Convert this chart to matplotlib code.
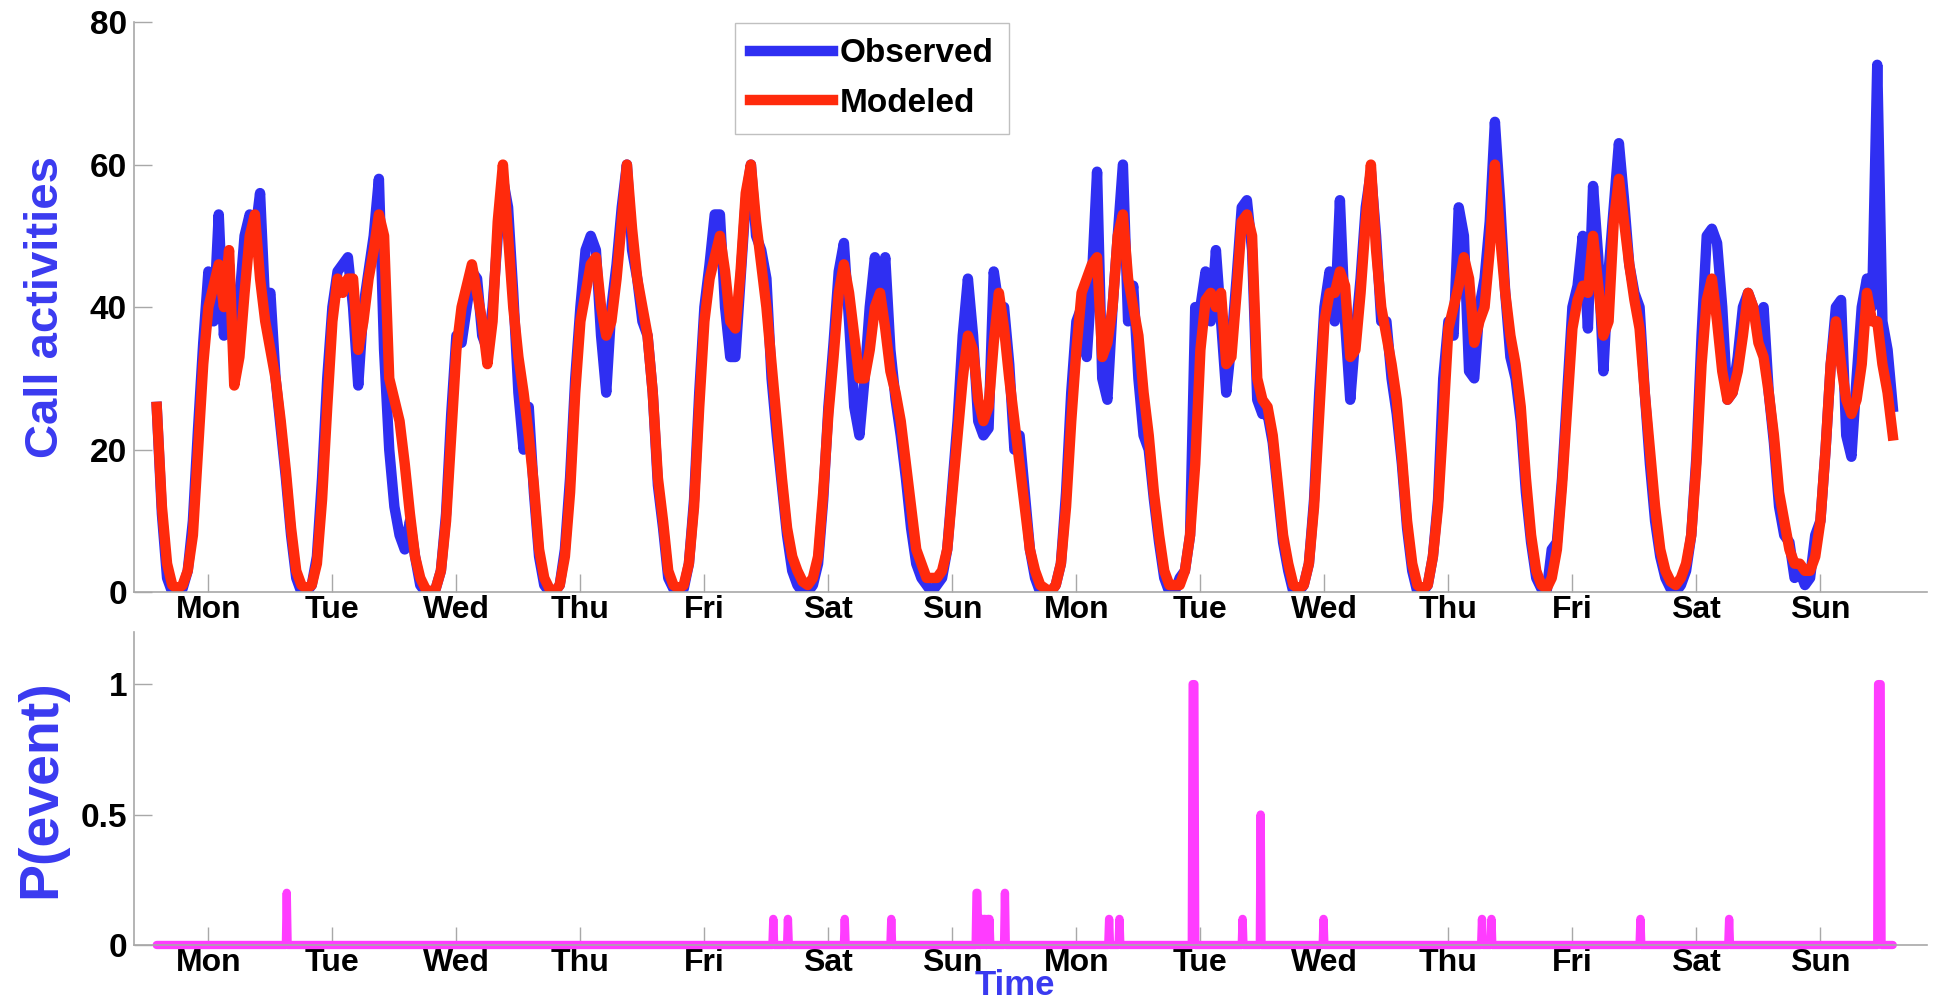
import numpy as np
import matplotlib
matplotlib.use("Agg")
import matplotlib.pyplot as plt

plt.rcParams['font.family'] = ['Liberation Sans', 'DejaVu Sans']
plt.rcParams['font.weight'] = 'bold'
plt.rcParams['axes.labelweight'] = 'bold'

# %% data -- hourly call activity, one list per day
# first Monday starts at 02:00, last Sunday runs two hours past midnight
day_labels = ["Mon", "Tue", "Wed", "Thu", "Fri", "Sat", "Sun"] * 2

observed_mon1 = [26, 11, 2, 0, 0, 0.5, 3, 10, 23, 35, 45, 38, 53, 36, 46, 32, 41, 50, 53, 50, 56, 40, 42]
observed_tue1 = [30, 23, 16, 8, 2, 0, 0, 1, 5, 16, 30, 40, 45, 46, 47, 40, 29, 40, 45, 50, 58, 34, 20, 12]
observed_wed1 = [8, 6, 10, 5, 1, 0, 0, 0.5, 3, 11, 25, 36, 35, 40, 45, 44, 36, 34, 40, 50, 58, 54, 42, 28]
observed_thu1 = [20, 26, 14, 5, 1, 0, 0, 1, 6, 16, 30, 40, 48, 50, 48, 36, 28, 40, 46, 54, 60, 48, 44, 38]
observed_fri1 = [36, 28, 15, 9, 2, 0.5, 0, 0.5, 4, 13, 28, 40, 46, 53, 53, 40, 33, 33, 44, 55, 60, 50, 48, 44]
observed_sat1 = [30, 22, 15, 8, 3, 1, 0, 0, 1, 4, 13, 26, 35, 45, 49, 38, 26, 22, 30, 40, 47, 40, 47, 34]
observed_sun1 = [27, 22, 16, 9, 4, 2, 1, 0, 1, 2, 6, 15, 24, 36, 44, 36, 24, 22, 23, 45, 40, 40, 32, 20]
observed_mon2 = [22, 14, 6, 2, 0, 0, 0, 1, 4, 14, 28, 38, 40, 33, 44, 59, 30, 27, 40, 50, 60, 38, 43, 30]
observed_tue2 = [22, 20, 13, 7, 2, 0, 0, 2, 3, 8, 40, 40, 45, 38, 48, 38, 28, 35, 44, 54, 55, 48, 27, 25]
observed_wed2 = [25, 21, 14, 7, 3, 0, 0, 1, 4, 13, 28, 40, 45, 38, 55, 38, 27, 36, 44, 54, 59, 50, 38, 38]
observed_thu2 = [30, 25, 18, 9, 3, 0, 0, 1, 5, 13, 30, 38, 36, 54, 50, 31, 30, 40, 44, 52, 66, 55, 42, 33]
observed_fri2 = [30, 24, 14, 7, 2, 0.5, 0, 6, 7, 16, 28, 40, 43, 50, 37, 57, 47, 31, 45, 54, 63, 55, 46, 42]
observed_sat2 = [40, 28, 18, 10, 5, 2, 0.5, 0, 1, 3, 8, 19, 36, 50, 51, 49, 40, 27, 28, 33, 40, 42, 40, 38]
observed_sun2 = [40, 28, 21, 12, 8, 7, 2, 3, 1, 2, 8, 10, 20, 32, 40, 41, 22, 19, 30, 40, 44, 40, 74, 38, 34, 26]

modeled_mon1 = [26, 12, 4, 1, 0.5, 1, 3, 8, 20, 32, 40, 43, 46, 40, 48, 29, 33, 42, 50, 53, 44, 38, 34]
modeled_tue1 = [30, 24, 17, 9, 3, 1, 0.5, 1, 4, 13, 26, 38, 44, 42, 44, 44, 34, 38, 44, 48, 53, 50, 30, 27]
modeled_wed1 = [24, 18, 11, 5, 2, 0.5, 0, 0.5, 3, 10, 22, 34, 40, 43, 46, 42, 38, 32, 38, 52, 60, 50, 40, 33]
modeled_thu1 = [28, 22, 15, 6, 2, 0.5, 0, 1, 5, 14, 28, 38, 42, 46, 47, 40, 36, 38, 44, 52, 60, 51, 44, 40]
modeled_fri1 = [36, 28, 16, 10, 3, 1, 0.5, 1, 4, 12, 26, 38, 44, 47, 50, 45, 38, 37, 45, 56, 60, 52, 46, 40]
modeled_sat1 = [32, 24, 16, 9, 5, 3, 1.5, 1, 2, 5, 14, 25, 33, 42, 46, 42, 36, 30, 30, 34, 40, 42, 37, 31]
modeled_sun1 = [28, 24, 18, 12, 6, 4, 2, 2, 2, 3, 6, 14, 22, 30, 36, 34, 27, 24, 26, 35, 42, 37, 30, 24]
modeled_mon2 = [18, 12, 6, 3, 1, 0.5, 0, 1, 4, 12, 24, 34, 42, 44, 46, 47, 33, 35, 40, 50, 53, 44, 40, 36]
modeled_tue2 = [28, 22, 14, 8, 3, 1, 1, 1, 3, 8, 18, 34, 41, 42, 40, 42, 32, 33, 42, 52, 53, 50, 30, 27]
modeled_wed2 = [26, 22, 15, 8, 4, 1, 0.5, 1, 4, 12, 25, 38, 42, 42, 45, 43, 33, 34, 42, 52, 60, 48, 40, 36]
modeled_thu2 = [32, 27, 19, 10, 4, 1, 0.5, 1, 5, 12, 24, 37, 40, 43, 47, 44, 35, 38, 40, 48, 60, 50, 42, 36]
modeled_fri2 = [32, 26, 16, 8, 3, 1, 0.5, 2, 6, 15, 26, 37, 41, 43, 42, 50, 43, 36, 38, 52, 58, 52, 46, 41]
modeled_sat2 = [37, 28, 20, 12, 6, 3, 1.5, 1, 2, 4, 8, 18, 32, 41, 44, 38, 31, 27, 28, 31, 36, 42, 40, 35]
modeled_sun2 = [33, 28, 22, 14, 10, 6, 4, 4, 3, 3, 5, 10, 20, 32, 38, 32, 27, 25, 27, 32, 42, 38, 38, 32, 28, 22]

# detected events: hour since Monday 00:00, probability, duration in hours
event_hour = [27.1, 121.3, 124.1, 135.2, 144.1,
              160.6, 161.2, 161.6, 162.0, 162.4, 162.8, 163.2, 166.2,
              186.4, 188.4, 202.5, 212.1, 215.7, 227.9, 258.5, 260.4,
              289.1, 306.3, 335.2]
event_prob = [0.2, 0.1, 0.1, 0.1, 0.1,
              0.2, 0.1, 0.1, 0.1, 0.1, 0.1, 0.1, 0.2,
              0.1, 0.1, 1.0, 0.1, 0.5, 0.1, 0.1, 0.1,
              0.1, 0.1, 1.0]
event_span = [0, 0, 0, 0, 0,
              0.2, 0, 0, 0, 0, 0, 0, 0,
              0, 0, 0.3, 0, 0, 0, 0, 0,
              0, 0, 0.4]

observed = np.concatenate([observed_mon1, observed_tue1, observed_wed1, observed_thu1,
                           observed_fri1, observed_sat1, observed_sun1, observed_mon2,
                           observed_tue2, observed_wed2, observed_thu2, observed_fri2,
                           observed_sat2, observed_sun2])
modeled = np.concatenate([modeled_mon1, modeled_tue1, modeled_wed1, modeled_thu1,
                          modeled_fri1, modeled_sat1, modeled_sun1, modeled_mon2,
                          modeled_tue2, modeled_wed2, modeled_thu2, modeled_fri2,
                          modeled_sat2, modeled_sun2])
hours = np.arange(2, 2 + len(modeled))
t_days = hours / 24.0

# event probability on a 10-minute grid
step = 1.0 / 6
grid_h = np.arange(hours[0], hours[-1] + step / 2, step)
p_event = np.zeros_like(grid_h)
for h, p, w in zip(event_hour, event_prob, event_span):
    p_event[(grid_h >= h - step / 2) & (grid_h < h + w + step / 2)] = p

# %% plot
BLUE = "#2f2ff2"
RED = "#ff2a0c"
MAGENTA = "#ff3cff"
LABEL_BLUE = "#3a3af0"
AXIS_GREY = "#a8a8a8"

fig = plt.figure(figsize=(19.42, 10.02), dpi=100)
ax1 = fig.add_axes([0.069, 0.409, 0.9233, 0.569])
ax2 = fig.add_axes([0.069, 0.0569, 0.9233, 0.3124])

ax1.plot(t_days, observed, color=BLUE, lw=7.5, solid_joinstyle="round", label="Observed")
ax1.plot(t_days, modeled, color=RED, lw=7.5, solid_joinstyle="round", label="Modeled")
ax1.set_ylim(0, 80)
ax1.set_yticks([0, 20, 40, 60, 80])
ax1.set_ylabel("Call activities", fontsize=34, color=LABEL_BLUE)
ax1.legend(loc="upper left", bbox_to_anchor=(0.335, 0.998), fontsize=24,
           fancybox=False, edgecolor="#c0c0c0", framealpha=1, handlelength=2.5,
           handletextpad=0.2, labelspacing=0.55, borderpad=0.45, borderaxespad=0)

ax2.plot(grid_h / 24.0, p_event, color=MAGENTA, lw=6, solid_joinstyle="round",
         solid_capstyle="round", clip_on=False)
ax2.set_ylim(0, 1.2)
ax2.set_yticks([0, 0.5, 1], labels=["0", "0.5", "1"])
ax2.set_ylabel("P(event)", fontsize=40, color=LABEL_BLUE)
ax2.set_xlabel("Time", fontsize=25, color=LABEL_BLUE)
ax2.xaxis.set_label_coords(0.491, -0.0767)

for ax in (ax1, ax2):
    ax.set_xlim(-0.10, 14.36)
    ax.set_xticks(np.arange(len(day_labels)) + 0.5, labels=day_labels)
    ax.spines[["top", "right"]].set_visible(False)
    for side in ("left", "bottom"):
        ax.spines[side].set_color(AXIS_GREY)
        ax.spines[side].set_linewidth(1.2)
    ax.tick_params(axis="x", direction="in", length=13, width=1, color=AXIS_GREY,
                   labelsize=23, pad=2)
    ax.tick_params(axis="y", direction="in", length=13, width=1, color=AXIS_GREY,
                   labelsize=24, pad=5)
    ax.yaxis.set_label_coords(-0.037, 0.5)

fig.savefig("out.png", dpi=100)
